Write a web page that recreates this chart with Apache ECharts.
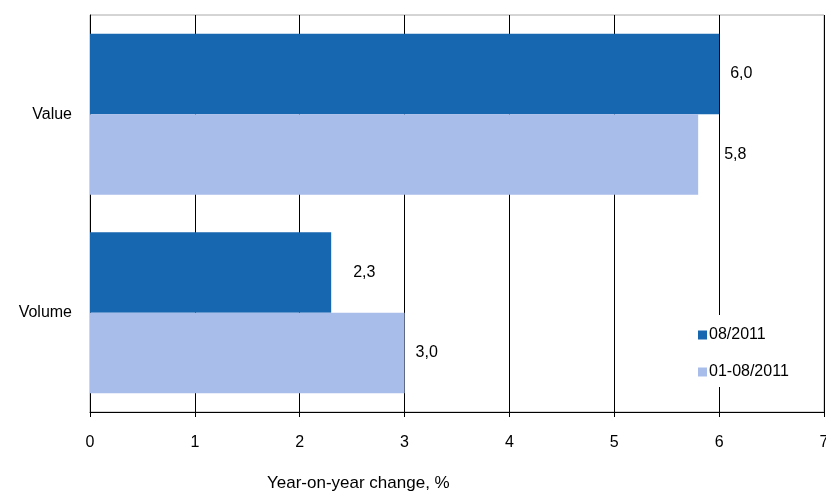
<!DOCTYPE html>
<html><head><meta charset="utf-8">
<script src="https://cdn.jsdelivr.net/npm/echarts@6/dist/echarts.min.js"></script>
<style>html,body{margin:0;padding:0;background:#fff}#c{width:826px;height:492px}</style>
</head><body><div id="c"></div>
<script>
const categories = ['Value', 'Volume'];
const seriesNames = ['08/2011', '01-08/2011'];
const month = [6.0, 2.3];
const cumulative = [5.8, 3.0];
const xTicks = [0, 1, 2, 3, 4, 5, 6, 7];
const axisTitle = 'Year-on-year change, %';
// label gaps (px) beside each bar end, as placed in the reference
const monthLabelGap = [11, 22];
const cumulativeLabelGap = [26, 11];

const font = 'Liberation Sans, Arial, sans-serif';
const FS = 16;
const chart = echarts.init(document.getElementById('c'));
const fmt = p => p.value.toFixed(1).replace('.', ',');
const withGap = (vals, gaps) => vals.map((v, i) => ({ value: v, label: { distance: gaps[i] } }));
chart.setOption({
  animation: false,
  textStyle: { fontFamily: font },
  title: { text: axisTitle, left: 262, top: 470,
    textStyle: { fontSize: 17, fontWeight: 'normal', color: '#000', fontFamily: font } },
  legend: {
    orient: 'vertical', left: 693, top: 315, itemGap: 21,
    padding: [12, 5, 7, 5], backgroundColor: '#fff',
    itemWidth: 9, itemHeight: 9, icon: 'rect',
    textStyle: { fontSize: FS, color: '#000', padding: [0, 0, 0, -3] },
    data: seriesNames
  },
  grid: { left: 90, right: 2, top: 15, bottom: 80, containLabel: false, outerBoundsMode: 'none',
    show: true, borderColor: '#aaa', borderWidth: 1 },
  xAxis: {
    type: 'value', min: xTicks[0], max: xTicks[xTicks.length - 1], interval: 1,
    axisLine: { show: true, lineStyle: { color: '#000', width: 1 } },
    axisTick: { show: true, length: 5, lineStyle: { color: '#000' } },
    axisLabel: { fontSize: FS, color: '#000', margin: 23 },
    splitLine: { show: true, lineStyle: { color: '#000', width: 1 } }
  },
  yAxis: {
    type: 'category', data: categories, inverse: true,
    axisLine: { show: true, lineStyle: { color: '#000' } },
    axisTick: { show: false },
    axisLabel: { fontSize: FS, color: '#000', margin: 18 }
  },
  series: [
    { name: seriesNames[0], type: 'bar', data: withGap(month, monthLabelGap), barGap: '0%', barCategoryGap: '19%',
      itemStyle: { color: '#1767B0' },
      label: { show: true, position: 'right', fontSize: FS, color: '#000', formatter: fmt } },
    { name: seriesNames[1], type: 'bar', data: withGap(cumulative, cumulativeLabelGap),
      itemStyle: { color: '#A8BDEA' },
      label: { show: true, position: 'right', fontSize: FS, color: '#000', formatter: fmt } }
  ]
});
</script></body></html>
